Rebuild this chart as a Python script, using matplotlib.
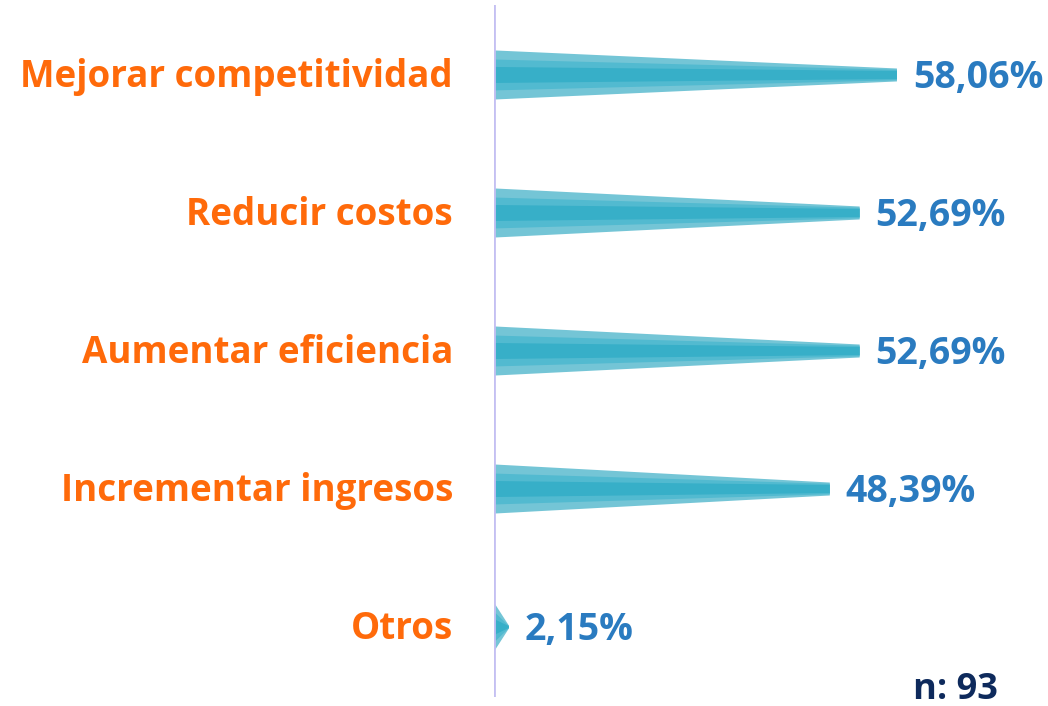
import matplotlib.pyplot as plt
from matplotlib.patches import Polygon

categorias = ['Mejorar competitividad', 'Reducir costos', 'Aumentar eficiencia',
              'Incrementar ingresos', 'Otros']
valores = [58.06, 52.69, 52.69, 48.39, 2.15]
etiquetas = ['58,06%', '52,69%', '52,69%', '48,39%', '2,15%']
muestra = 'n: 93'

# capas del "pico": (semialto inicio, semialto punta, color)
capas = [(0.178, 0.047, '#74C5D6'),
         (0.112, 0.038, '#52BAD0'),
         (0.058, 0.029, '#37AFC8')]

fig = plt.figure(figsize=(10.48, 7.06), dpi=100)
W, H = 1048, 706
ax = fig.add_axes([494 / W, 9 / H, (W - 494) / W, 692 / H])
ax.set_xlim(0, (W - 494) / 6.94)
ax.set_ylim(len(categorias) - 0.493, -0.507)

for i, v in enumerate(valores):
    f = min(1.0, v / 10)  # las barras cortas acaban en punta
    for h0, h1, c in capas:
        h1 = h1 * f
        pts = [(0, i - h0), (v, i - h1), (v, i + h1), (0, i + h0)]
        ax.add_patch(Polygon(pts, closed=True, facecolor=c, edgecolor='none'))
    ax.annotate(categorias[i], (0, i), xytext=(-29.5, -1.5), textcoords='offset points',
                ha='right', va='center', fontsize=26.5, fontweight='bold',
                color='#FF6A0A', family='Open Sans', annotation_clip=False)
    ax.annotate(etiquetas[i], (v, i), xytext=(11.5, -2), textcoords='offset points',
                ha='left', va='center', fontsize=27, fontweight='bold',
                color='#2A7BC0', family='Open Sans', annotation_clip=False)

ax.axvline(0, color='#C4C0F2', linewidth=2)
for s in ax.spines.values():
    s.set_visible(False)
ax.set_xticks([])
ax.set_yticks([])

fig.text(955 / W, 1 - 690 / H, muestra, ha='center', va='center', fontsize=26,
         fontweight='bold', color='#0E2A5C', family='Open Sans')

fig.savefig('out.png', dpi=100, facecolor='white')
